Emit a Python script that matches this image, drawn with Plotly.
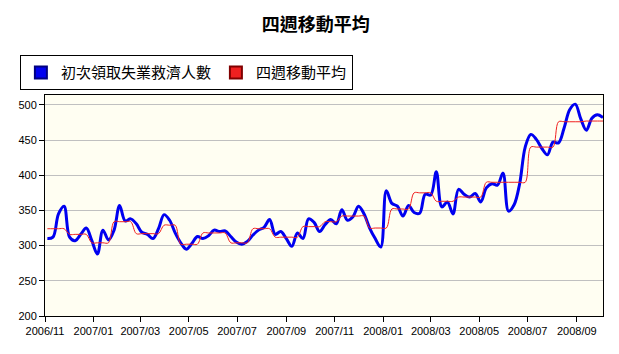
import pandas as pd
import plotly.graph_objects as go

title_text = "四週移動平均"
series_names = ["初次領取失業救濟人數", "四週移動平均"]
start_week = "2006-11-04"

claims = [310, 312, 345, 356, 312, 307, 316, 325, 307, 288,
          322, 308, 322, 357, 335, 338, 331, 319, 316, 310,
          324, 344, 336, 318, 304, 295, 303, 313, 310, 314,
          322, 320, 321, 313, 305, 302, 306, 315, 322, 326,
          337, 316, 320, 310, 299, 318, 310, 338, 333, 320,
          330, 337, 331, 351, 336, 341, 356, 345, 325, 310,
          298, 378, 360, 356, 342, 357, 347, 346, 373, 372,
          405, 355, 362, 345, 380, 373, 369, 374, 362, 382,
          388, 386, 403, 349, 358, 388, 440, 458, 451, 438,
          429, 447, 446, 467, 493, 501, 480, 464, 481, 486,
          482]

avg4 = ([324] * 4 + [316] * 4 + [304] * 4 + [334] * 4 + [317] * 5 +
        [329] * 3 + [302] * 4 + [318] * 5 + [304] * 4 + [324] * 4 +
        [312] * 5 + [327] * 4 + [334] * 3 + [342] * 5 + [325] * 4 +
        [352] * 4 + [375] * 4 + [363] * 4 + [369] * 5 + [390] * 8 +
        [440] * 5 + [476] * 5 + [477] * 4)

weeks = pd.date_range(start_week, periods=len(claims), freq="7D")

tick_dates = ["2006-11-01", "2007-01-01", "2007-03-01", "2007-05-01", "2007-07-01",
              "2007-09-01", "2007-11-01", "2008-01-01", "2008-03-01", "2008-05-01",
              "2008-07-01", "2008-09-01"]
tick_labels = ["2006/11", "2007/01", "2007/03", "2007/05", "2007/07", "2007/09",
               "2007/11", "2008/01", "2008/03", "2008/05", "2008/07", "2008/09"]

blue = "#0000F0"
red = "#F02020"

fig = go.Figure()
fig.add_trace(go.Scatter(x=weeks, y=claims, mode="lines", line=dict(color=blue, width=3, shape="spline"),
                         showlegend=False, name=series_names[0]))
fig.add_trace(go.Scatter(x=weeks, y=avg4, mode="lines", line=dict(color=red, width=1, shape="spline"),
                         showlegend=False, name=series_names[1]))
# legend entries (square swatches)
fig.add_trace(go.Scatter(x=[None], y=[None], mode="markers", name=series_names[0],
                         marker=dict(symbol="square", size=10, color=blue, line=dict(color="#000080", width=1))))
fig.add_trace(go.Scatter(x=[None], y=[None], mode="markers", name=series_names[1],
                         marker=dict(symbol="square", size=10, color=red, line=dict(color="#800000", width=1))))

fig.update_layout(
    width=619, height=354,
    margin=dict(l=45, r=16, t=95, b=38),
    paper_bgcolor="white",
    plot_bgcolor="#FFFEF2",
    title=dict(text="<b>" + title_text + "</b>", x=0.51, xanchor="center", y=0.93, yanchor="middle",
               font=dict(family="Noto Sans CJK TC", size=18, color="black")),
    legend=dict(orientation="h", x=-0.045, xanchor="left", y=1.18, yanchor="top",
                bgcolor="white", bordercolor="black", borderwidth=1,
                font=dict(family="Noto Sans CJK TC", size=15, color="black"),
                itemsizing="constant", tracegroupgap=0),
    font=dict(family="Liberation Sans", size=11, color="black"),
)
fig.update_xaxes(type="date", range=["2006-11-01", "2008-10-04"],
                 tickvals=tick_dates, ticktext=tick_labels,
                 ticks="outside", ticklen=5, tickcolor="black",
                 showline=True, linecolor="black", linewidth=1, mirror=True,
                 showgrid=False, zeroline=False,
                 tickfont=dict(family="Liberation Sans", size=11, color="black"))
fig.update_yaxes(range=[200, 514], tick0=200, dtick=50,
                 ticks="outside", ticklen=5, tickcolor="black",
                 showline=True, linecolor="black", linewidth=1, mirror=True,
                 showgrid=True, gridcolor="#C0C0C0", gridwidth=1, zeroline=False,
                 tickfont=dict(family="Liberation Sans", size=11, color="black"))

fig.write_html("out.html")
